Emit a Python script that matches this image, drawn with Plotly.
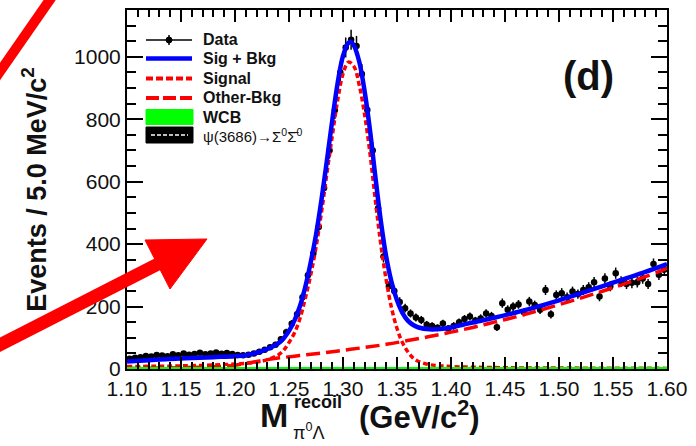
import plotly.graph_objects as go

# ---------------- data ----------------
bin_width = 0.005
bin_centers = [round(1.1025 + bin_width * i, 4) for i in range(100)]
counts = [33, 36, 38, 42, 40, 45, 43, 41, 47, 44,
          50, 46, 48, 52, 47, 50, 53, 49, 51, 48,
          45, 44, 46, 50, 55, 62, 70, 78, 95, 118,
          145, 175, 230, 300, 370, 455, 580, 700, 830, 950,
          1030, 1055, 1035, 945, 830, 700, 515, 360, 265, 250,
          215, 195, 178, 165, 157, 142, 138, 132, 146, 130,
          138, 150, 160, 168, 155, 162, 178, 170, 134, 211,
          190, 200, 207, 182, 216, 205, 190, 253, 175, 237,
          243, 230, 248, 240, 253, 262, 278, 232, 290, 265,
          307, 280, 272, 276, 278, 290, 272, 336, 302, 318]
count_errors = [6, 6, 6, 6, 6, 7, 7, 6, 7, 7,
                7, 7, 7, 7, 7, 7, 7, 7, 7, 7,
                7, 7, 7, 7, 7, 8, 8, 9, 10, 11,
                12, 13, 15, 17, 19, 21, 24, 26, 29, 31,
                32, 32, 32, 31, 29, 26, 23, 19, 16, 16,
                15, 14, 13, 13, 13, 12, 12, 11, 12, 11,
                12, 12, 13, 13, 12, 13, 13, 13, 12, 15,
                14, 14, 14, 13, 15, 14, 14, 16, 13, 15,
                16, 15, 16, 15, 16, 16, 17, 15, 17, 16,
                18, 17, 16, 17, 17, 17, 16, 18, 17, 18]

total_x = [1.10, 1.12, 1.14, 1.16, 1.18, 1.20, 1.21, 1.22, 1.23, 1.24,
           1.245, 1.25, 1.255, 1.26, 1.265, 1.27, 1.275, 1.28, 1.285, 1.29,
           1.295, 1.30, 1.305, 1.3075, 1.31, 1.315, 1.32, 1.325, 1.33, 1.335,
           1.34, 1.345, 1.35, 1.355, 1.36, 1.365, 1.37, 1.38, 1.39, 1.40,
           1.41, 1.42, 1.44, 1.46, 1.48, 1.50, 1.52, 1.54, 1.56, 1.58, 1.60]
total_y = [24, 28, 32, 35, 38, 41, 44, 52, 64, 82,
           98, 122, 155, 200, 262, 340, 430, 540, 665, 795,
           915, 1003, 1045, 1048, 1037, 985, 890, 765, 615, 475,
           360, 278, 220, 180, 155, 141, 133, 127, 128, 133,
           141, 149, 164, 181, 200, 220, 242, 265, 288, 311, 336]

signal_x = [1.10, 1.15, 1.20, 1.22, 1.23, 1.24, 1.245, 1.25, 1.255, 1.26,
            1.265, 1.27, 1.275, 1.28, 1.285, 1.29, 1.295, 1.30, 1.305, 1.31,
            1.315, 1.32, 1.325, 1.33, 1.335, 1.34, 1.345, 1.35, 1.355, 1.36,
            1.365, 1.37, 1.38, 1.40, 1.45, 1.50, 1.60]
signal_y = [8, 10, 16, 22, 30, 45, 60, 85, 115, 160,
            225, 300, 390, 500, 625, 745, 860, 945, 983, 970,
            910, 815, 690, 540, 400, 285, 195, 130, 85, 55,
            35, 24, 14, 8, 4, 3, 2]

bkg_x = [1.10, 1.15, 1.18, 1.20, 1.21, 1.22, 1.23, 1.24, 1.26, 1.28,
         1.30, 1.32, 1.34, 1.36, 1.38, 1.40, 1.42, 1.44, 1.46, 1.48,
         1.50, 1.52, 1.54, 1.56, 1.58, 1.60]
bkg_y = [2, 4, 7, 12, 18, 24, 30, 35, 43, 51,
         60, 69, 79, 91, 104, 118, 133, 150, 167, 186,
         206, 227, 249, 272, 296, 322]

wcb_x = [1.10, 1.60]
wcb_y = [0, 0]

psi_x = [1.10, 1.20, 1.30, 1.40, 1.60]
psi_y = [2, 2, 1, 0, 0]

y_ticks = [0, 200, 400, 600, 800, 1000]

# ---------------- geometry helpers (pixel -> paper) ----------------
W, H = 696, 446
L, R, T, B = 127, 667, 10, 369


def PX(px):
    return (px - L) / (R - L)


def PY(py):
    return (B - py) / (B - T)


FONT = "Liberation Sans, Arial, Helvetica, sans-serif"
INK = "#111111"

fig = go.Figure()

fig.add_trace(go.Scatter(
    x=bin_centers, y=counts, mode="markers", name="Data",
    marker=dict(color="black", size=6.5),
    error_y=dict(type="data", array=count_errors, color="black", thickness=1.5, width=0),
    error_x=dict(type="constant", value=bin_width / 2, color="black", thickness=1.5, width=0),
    showlegend=False))

fig.add_trace(go.Scatter(x=psi_x, y=psi_y, mode="lines", name="ψ(3686)→Σ0Σ0",
                         line=dict(color="black", width=2), showlegend=False))
fig.add_trace(go.Scatter(x=bkg_x, y=bkg_y, mode="lines", name="Other-Bkg",
                         line=dict(color="#ff0000", width=3.5, dash="14px,6px", shape="spline"),
                         showlegend=False))
fig.add_trace(go.Scatter(x=signal_x, y=signal_y, mode="lines", name="Signal",
                         line=dict(color="#ff0000", width=3.5, dash="5px,3px", shape="spline"),
                         showlegend=False))
fig.add_trace(go.Scatter(x=total_x, y=total_y, mode="lines", name="Sig + Bkg",
                         line=dict(color="#0000ff", width=4.5, shape="spline"),
                         showlegend=False))
fig.add_trace(go.Scatter(x=wcb_x, y=wcb_y, mode="lines", name="WCB",
                         line=dict(color="#00ff00", width=4), showlegend=False))

shapes = []
annotations = []

# ---------- manual legend ----------
lx0, lx1, tx = 146, 192, 201
rows = [40, 58.5, 78.5, 98, 117, 135]
labels = ["Data", "Sig + Bkg", "Signal", "Other-Bkg", "WCB"]


def seg(x0, y0, x1, y1, color, width, dash="solid"):
    shapes.append(dict(type="line", xref="paper", yref="paper",
                       x0=PX(x0), y0=PY(y0), x1=PX(x1), y1=PY(y1),
                       line=dict(color=color, width=width, dash=dash), layer="above"))


seg(lx0, rows[0], lx1, rows[0], "black", 1.5)
seg(169, rows[0] - 5, 169, rows[0] + 5, "black", 1.5)
shapes.append(dict(type="circle", xref="paper", yref="paper",
                   x0=PX(166), x1=PX(172), y0=PY(rows[0] - 3), y1=PY(rows[0] + 3),
                   fillcolor="black", line=dict(color="black", width=1), layer="above"))
seg(lx0, rows[1], lx1, rows[1], "#0000ff", 4.5)
seg(lx0, rows[2], lx1, rows[2], "#ff0000", 4, "7px,3px")
seg(lx0, rows[3], lx1, rows[3], "#ff0000", 4, "13px,4px")
shapes.append(dict(type="rect", xref="paper", yref="paper",
                   x0=PX(lx0), x1=PX(lx1 + 1), y0=PY(rows[4] - 7.5), y1=PY(rows[4] + 7.5),
                   fillcolor="#00ff00", line=dict(color="#00ff00", width=1), layer="above"))
shapes.append(dict(type="rect", xref="paper", yref="paper",
                   x0=PX(lx0), x1=PX(lx1 + 1), y0=PY(rows[5] - 8), y1=PY(rows[5] + 8),
                   fillcolor="black", line=dict(color="black", width=1), layer="above"))
seg(151, rows[5], 188, rows[5], "white", 1.5, "4px,2px")

for lab, ry in zip(labels, rows[:5]):
    annotations.append(dict(text=lab, xref="paper", yref="paper", x=PX(tx), y=PY(ry),
                            xanchor="left", yanchor="middle", showarrow=False,
                            font=dict(family=FONT, size=16, color=INK, weight="bold")))
annotations.append(dict(text="ψ(3686)→Σ<sup>0</sup>Σ̄<sup>0</sup>", xref="paper", yref="paper",
                        x=PX(tx), y=PY(rows[5]), xanchor="left", yanchor="middle", showarrow=False,
                        font=dict(family=FONT, size=15, color=INK)))

# ---------- panel label ----------
annotations.append(dict(text="(d)", xref="paper", yref="paper", x=PX(588), y=PY(76),
                        xanchor="center", yanchor="middle", showarrow=False,
                        font=dict(family=FONT, size=40, color=INK, weight="bold")))

# ---------- x-axis title pieces ----------
annotations.append(dict(text="M", xref="paper", yref="paper", x=PX(289), y=PY(415),
                        xanchor="right", yanchor="middle", showarrow=False, borderpad=0,
                        font=dict(family=FONT, size=34, color=INK, weight="bold")))
annotations.append(dict(text="recoil", xref="paper", yref="paper", x=PX(293), y=PY(402),
                        xanchor="left", yanchor="middle", showarrow=False, borderpad=0,
                        font=dict(family=FONT, size=18, color=INK, weight="bold")))
annotations.append(dict(text="π<sup>0</sup>Λ", xref="paper", yref="paper", x=PX(292), y=PY(431),
                        xanchor="left", yanchor="middle", showarrow=False, borderpad=0,
                        font=dict(family=FONT, size=18, color=INK)))
annotations.append(dict(text="(GeV/c<sup>2</sup>)", xref="paper", yref="paper", x=PX(358), y=PY(415),
                        xanchor="left", yanchor="middle", showarrow=False, borderpad=0,
                        font=dict(family=FONT, size=31, color=INK, weight="bold")))

# ---------- red overlay arrows ----------
shapes.append(dict(type="line", xref="paper", yref="paper",
                   x0=PX(-10), y0=PY(86), x1=PX(58), y1=PY(-12),
                   line=dict(color="#ff0000", width=10), layer="above"))
shapes.append(dict(type="line", xref="paper", yref="paper",
                   x0=PX(-20), y0=PY(355), x1=PX(160), y1=PY(263),
                   line=dict(color="#ff0000", width=13), layer="above"))
head = "M {:.5f},{:.5f} L {:.5f},{:.5f} L {:.5f},{:.5f} Z".format(
    PX(145), PY(240), PX(207), PY(239), PX(170), PY(289))
shapes.append(dict(type="path", xref="paper", yref="paper", path=head,
                   fillcolor="#ff0000", line=dict(color="#ff0000", width=1), layer="above"))

fig.update_layout(
    width=W, height=H,
    margin=dict(l=L, r=W - R, t=T, b=H - B, autoexpand=False),
    paper_bgcolor="white", plot_bgcolor="white",
    showlegend=False,
    shapes=shapes, annotations=annotations,
    font=dict(family=FONT, color=INK),
    xaxis=dict(range=[1.10, 1.60], tick0=1.10, dtick=0.05, tickformat=".2f",
               showgrid=False, zeroline=False, automargin=False,
               showline=True, linecolor="black", linewidth=2, mirror="allticks",
               ticks="inside", ticklen=12, tickwidth=1.5, tickcolor="black",
               minor=dict(dtick=0.01, ticks="inside", ticklen=7, tickwidth=1.5, tickcolor="black",
                          showgrid=False),
               tickfont=dict(family=FONT, size=21, color=INK),
               ticklabelstandoff=0),
    yaxis=dict(range=[0, 1150], tickvals=y_ticks,
               showgrid=False, zeroline=False, automargin=False,
               showline=True, linecolor="black", linewidth=2, mirror="allticks",
               ticks="inside", ticklen=16, tickwidth=1.5, tickcolor="black",
               minor=dict(dtick=50, ticks="inside", ticklen=9, tickwidth=1.5, tickcolor="black",
                          showgrid=False),
               tickfont=dict(family=FONT, size=21, color=INK),
               ticklabelstandoff=0,
               title=dict(text="Events / 5.0 MeV/c<sup>2</sup>", standoff=20,
                          font=dict(family=FONT, size=27, color=INK, weight="bold"))),
)

fig.write_html("out.html", config={"displayModeBar": False},
               post_script="document.body.style.margin='0';document.body.style.padding='0';")
